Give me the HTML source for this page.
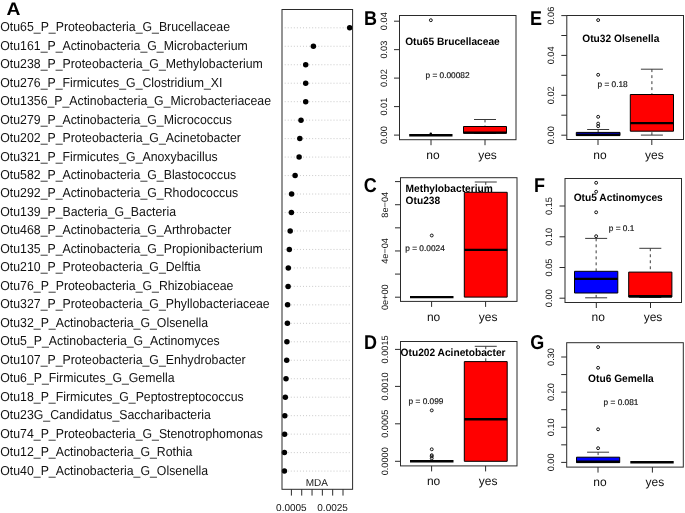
<!DOCTYPE html><html><head><meta charset="utf-8"><style>html,body{margin:0;padding:0;background:#fff;}svg{display:block;will-change:transform;}text{font-family:"Liberation Sans", sans-serif;text-rendering:geometricPrecision;}</style></head><body>
<svg width="685" height="513" viewBox="0 0 685 513">
<rect width="685" height="513" fill="#fff"/>
<text transform="translate(6.4 15) scale(1.07 1)" font-size="18" font-weight="bold" fill="#000">A</text>
<text transform="translate(0.30 31.25) scale(1 1.060)" font-size="12.30" fill="#111">Otu65_P_Proteobacteria_G_Brucellaceae</text>
<line x1="284.7" x2="351" y1="27.80" y2="27.80" stroke="#c4c4c4" stroke-width="0.9" stroke-dasharray="1 2.05"/>
<text transform="translate(0.30 49.72) scale(1 1.060)" font-size="12.30" fill="#111">Otu161_P_Actinobacteria_G_Microbacterium</text>
<line x1="284.7" x2="351" y1="46.27" y2="46.27" stroke="#c4c4c4" stroke-width="0.9" stroke-dasharray="1 2.05"/>
<text transform="translate(0.30 68.19) scale(1 1.060)" font-size="12.30" fill="#111">Otu238_P_Proteobacteria_G_Methylobacterium</text>
<line x1="284.7" x2="351" y1="64.74" y2="64.74" stroke="#c4c4c4" stroke-width="0.9" stroke-dasharray="1 2.05"/>
<text transform="translate(0.30 86.66) scale(1 1.060)" font-size="12.30" fill="#111">Otu276_P_Firmicutes_G_Clostridium_XI</text>
<line x1="284.7" x2="351" y1="83.21" y2="83.21" stroke="#c4c4c4" stroke-width="0.9" stroke-dasharray="1 2.05"/>
<text transform="translate(0.30 105.13) scale(1 1.060)" font-size="12.30" fill="#111">Otu1356_P_Actinobacteria_G_Microbacteriaceae</text>
<line x1="284.7" x2="351" y1="101.68" y2="101.68" stroke="#c4c4c4" stroke-width="0.9" stroke-dasharray="1 2.05"/>
<text transform="translate(0.30 123.60) scale(1 1.060)" font-size="12.30" fill="#111">Otu279_P_Actinobacteria_G_Micrococcus</text>
<line x1="284.7" x2="351" y1="120.15" y2="120.15" stroke="#c4c4c4" stroke-width="0.9" stroke-dasharray="1 2.05"/>
<text transform="translate(0.30 142.07) scale(1 1.060)" font-size="12.30" fill="#111">Otu202_P_Proteobacteria_G_Acinetobacter</text>
<line x1="284.7" x2="351" y1="138.62" y2="138.62" stroke="#c4c4c4" stroke-width="0.9" stroke-dasharray="1 2.05"/>
<text transform="translate(0.30 160.54) scale(1 1.060)" font-size="12.30" fill="#111">Otu321_P_Firmicutes_G_Anoxybacillus</text>
<line x1="284.7" x2="351" y1="157.09" y2="157.09" stroke="#c4c4c4" stroke-width="0.9" stroke-dasharray="1 2.05"/>
<text transform="translate(0.30 179.01) scale(1 1.060)" font-size="12.30" fill="#111">Otu582_P_Actinobacteria_G_Blastococcus</text>
<line x1="284.7" x2="351" y1="175.56" y2="175.56" stroke="#c4c4c4" stroke-width="0.9" stroke-dasharray="1 2.05"/>
<text transform="translate(0.30 197.48) scale(1 1.060)" font-size="12.30" fill="#111">Otu292_P_Actinobacteria_G_Rhodococcus</text>
<line x1="284.7" x2="351" y1="194.03" y2="194.03" stroke="#c4c4c4" stroke-width="0.9" stroke-dasharray="1 2.05"/>
<text transform="translate(0.30 215.95) scale(1 1.060)" font-size="12.30" fill="#111">Otu139_P_Bacteria_G_Bacteria</text>
<line x1="284.7" x2="351" y1="212.50" y2="212.50" stroke="#c4c4c4" stroke-width="0.9" stroke-dasharray="1 2.05"/>
<text transform="translate(0.30 234.42) scale(1 1.060)" font-size="12.30" fill="#111">Otu468_P_Actinobacteria_G_Arthrobacter</text>
<line x1="284.7" x2="351" y1="230.97" y2="230.97" stroke="#c4c4c4" stroke-width="0.9" stroke-dasharray="1 2.05"/>
<text transform="translate(0.30 252.89) scale(1 1.060)" font-size="12.30" fill="#111">Otu135_P_Actinobacteria_G_Propionibacterium</text>
<line x1="284.7" x2="351" y1="249.44" y2="249.44" stroke="#c4c4c4" stroke-width="0.9" stroke-dasharray="1 2.05"/>
<text transform="translate(0.30 271.36) scale(1 1.060)" font-size="12.30" fill="#111">Otu210_P_Proteobacteria_G_Delftia</text>
<line x1="284.7" x2="351" y1="267.91" y2="267.91" stroke="#c4c4c4" stroke-width="0.9" stroke-dasharray="1 2.05"/>
<text transform="translate(0.30 289.83) scale(1 1.060)" font-size="12.30" fill="#111">Otu76_P_Proteobacteria_G_Rhizobiaceae</text>
<line x1="284.7" x2="351" y1="286.38" y2="286.38" stroke="#c4c4c4" stroke-width="0.9" stroke-dasharray="1 2.05"/>
<text transform="translate(0.30 308.30) scale(1 1.060)" font-size="12.30" fill="#111">Otu327_P_Proteobacteria_G_Phyllobacteriaceae</text>
<line x1="284.7" x2="351" y1="304.85" y2="304.85" stroke="#c4c4c4" stroke-width="0.9" stroke-dasharray="1 2.05"/>
<text transform="translate(0.30 326.77) scale(1 1.060)" font-size="12.30" fill="#111">Otu32_P_Actinobacteria_G_Olsenella</text>
<line x1="284.7" x2="351" y1="323.32" y2="323.32" stroke="#c4c4c4" stroke-width="0.9" stroke-dasharray="1 2.05"/>
<text transform="translate(0.30 345.24) scale(1 1.060)" font-size="12.30" fill="#111">Otu5_P_Actinobacteria_G_Actinomyces</text>
<line x1="284.7" x2="351" y1="341.79" y2="341.79" stroke="#c4c4c4" stroke-width="0.9" stroke-dasharray="1 2.05"/>
<text transform="translate(0.30 363.71) scale(1 1.060)" font-size="12.30" fill="#111">Otu107_P_Proteobacteria_G_Enhydrobacter</text>
<line x1="284.7" x2="351" y1="360.26" y2="360.26" stroke="#c4c4c4" stroke-width="0.9" stroke-dasharray="1 2.05"/>
<text transform="translate(0.30 382.18) scale(1 1.060)" font-size="12.30" fill="#111">Otu6_P_Firmicutes_G_Gemella</text>
<line x1="284.7" x2="351" y1="378.73" y2="378.73" stroke="#c4c4c4" stroke-width="0.9" stroke-dasharray="1 2.05"/>
<text transform="translate(0.30 400.65) scale(1 1.060)" font-size="12.30" fill="#111">Otu18_P_Firmicutes_G_Peptostreptococcus</text>
<line x1="284.7" x2="351" y1="397.20" y2="397.20" stroke="#c4c4c4" stroke-width="0.9" stroke-dasharray="1 2.05"/>
<text transform="translate(0.30 419.12) scale(1 1.060)" font-size="12.30" fill="#111">Otu23G_Candidatus_Saccharibacteria</text>
<line x1="284.7" x2="351" y1="415.67" y2="415.67" stroke="#c4c4c4" stroke-width="0.9" stroke-dasharray="1 2.05"/>
<text transform="translate(0.30 437.59) scale(1 1.060)" font-size="12.30" fill="#111">Otu74_P_Proteobacteria_G_Stenotrophomonas</text>
<line x1="284.7" x2="351" y1="434.14" y2="434.14" stroke="#c4c4c4" stroke-width="0.9" stroke-dasharray="1 2.05"/>
<text transform="translate(0.30 456.06) scale(1 1.060)" font-size="12.30" fill="#111">Otu12_P_Actinobacteria_G_Rothia</text>
<line x1="284.7" x2="351" y1="452.61" y2="452.61" stroke="#c4c4c4" stroke-width="0.9" stroke-dasharray="1 2.05"/>
<text transform="translate(0.30 474.53) scale(1 1.060)" font-size="12.30" fill="#111">Otu40_P_Actinobacteria_G_Olsenella</text>
<line x1="284.7" x2="351" y1="471.08" y2="471.08" stroke="#c4c4c4" stroke-width="0.9" stroke-dasharray="1 2.05"/>
<circle cx="349.70" cy="27.80" r="2.75" fill="#000"/>
<circle cx="313.40" cy="46.27" r="2.75" fill="#000"/>
<circle cx="305.70" cy="64.74" r="2.75" fill="#000"/>
<circle cx="305.70" cy="83.21" r="2.75" fill="#000"/>
<circle cx="305.70" cy="101.68" r="2.75" fill="#000"/>
<circle cx="301.00" cy="120.15" r="2.75" fill="#000"/>
<circle cx="299.80" cy="138.62" r="2.75" fill="#000"/>
<circle cx="299.10" cy="157.09" r="2.75" fill="#000"/>
<circle cx="295.10" cy="175.56" r="2.75" fill="#000"/>
<circle cx="291.60" cy="194.03" r="2.75" fill="#000"/>
<circle cx="291.40" cy="212.50" r="2.75" fill="#000"/>
<circle cx="290.20" cy="230.97" r="2.75" fill="#000"/>
<circle cx="289.30" cy="249.44" r="2.75" fill="#000"/>
<circle cx="288.30" cy="267.91" r="2.75" fill="#000"/>
<circle cx="288.10" cy="286.38" r="2.75" fill="#000"/>
<circle cx="287.60" cy="304.85" r="2.75" fill="#000"/>
<circle cx="287.40" cy="323.32" r="2.75" fill="#000"/>
<circle cx="286.90" cy="341.79" r="2.75" fill="#000"/>
<circle cx="286.70" cy="360.26" r="2.75" fill="#000"/>
<circle cx="286.00" cy="378.73" r="2.75" fill="#000"/>
<circle cx="285.30" cy="397.20" r="2.75" fill="#000"/>
<circle cx="284.80" cy="415.67" r="2.75" fill="#000"/>
<circle cx="284.60" cy="434.14" r="2.75" fill="#000"/>
<circle cx="284.40" cy="452.61" r="2.75" fill="#000"/>
<circle cx="284.40" cy="471.08" r="2.75" fill="#000"/>
<rect x="282.00" y="9.50" width="70.60" height="479.80" fill="none" stroke="#2a2a2a" stroke-width="1.00"/>
<line x1="291.40" x2="291.40" y1="489.30" y2="495.6" stroke="#2a2a2a" stroke-width="1.00"/>
<line x1="301.72" x2="301.72" y1="489.30" y2="495.6" stroke="#2a2a2a" stroke-width="1.00"/>
<line x1="312.04" x2="312.04" y1="489.30" y2="495.6" stroke="#2a2a2a" stroke-width="1.00"/>
<line x1="322.36" x2="322.36" y1="489.30" y2="495.6" stroke="#2a2a2a" stroke-width="1.00"/>
<line x1="332.68" x2="332.68" y1="489.30" y2="495.6" stroke="#2a2a2a" stroke-width="1.00"/>
<line x1="343.00" x2="343.00" y1="489.30" y2="495.6" stroke="#2a2a2a" stroke-width="1.00"/>
<text x="291.4" y="510.9" font-size="10" text-anchor="middle" fill="#111">0.0005</text>
<text x="332.6" y="510.9" font-size="10" text-anchor="middle" fill="#111">0.0025</text>
<text x="316.9" y="485.6" font-size="10" text-anchor="middle" fill="#111">MDA</text>
<line x1="394.00" x2="399.50" y1="21.20" y2="21.20" stroke="#2a2a2a" stroke-width="1.00"/>
<text transform="translate(386.50 21.20) rotate(-90)" font-size="9.20" text-anchor="middle" fill="#111">0.04</text>
<line x1="394.00" x2="399.50" y1="49.65" y2="49.65" stroke="#2a2a2a" stroke-width="1.00"/>
<text transform="translate(386.50 49.65) rotate(-90)" font-size="9.20" text-anchor="middle" fill="#111">0.03</text>
<line x1="394.00" x2="399.50" y1="78.10" y2="78.10" stroke="#2a2a2a" stroke-width="1.00"/>
<text transform="translate(386.50 78.10) rotate(-90)" font-size="9.20" text-anchor="middle" fill="#111">0.02</text>
<line x1="394.00" x2="399.50" y1="106.60" y2="106.60" stroke="#2a2a2a" stroke-width="1.00"/>
<text transform="translate(386.50 106.60) rotate(-90)" font-size="9.20" text-anchor="middle" fill="#111">0.01</text>
<line x1="394.00" x2="399.50" y1="135.10" y2="135.10" stroke="#2a2a2a" stroke-width="1.00"/>
<text transform="translate(386.50 135.10) rotate(-90)" font-size="9.20" text-anchor="middle" fill="#111">0.00</text>
<line x1="431.00" x2="431.00" y1="139.70" y2="145.20" stroke="#2a2a2a" stroke-width="1.00"/>
<text x="433.00" y="159.00" font-size="12" text-anchor="middle" fill="#111">no</text>
<line x1="485.00" x2="485.00" y1="139.70" y2="145.20" stroke="#2a2a2a" stroke-width="1.00"/>
<text x="487.50" y="159.00" font-size="12" text-anchor="middle" fill="#111">yes</text>
<line x1="409.20" x2="452.50" y1="135.20" y2="135.20" stroke="#000" stroke-width="2.40"/>
<circle cx="430.80" cy="133.90" r="1.3" fill="#000"/>
<circle cx="430.85" cy="20.20" r="1.45" fill="none" stroke="#111" stroke-width="1.0"/>
<line x1="485.00" x2="485.00" y1="119.50" y2="126.50" stroke="#3a3a3a" stroke-width="1" stroke-dasharray="2.9 3.1"/>
<line x1="474.00" x2="496.00" y1="119.50" y2="119.50" stroke="#3a3a3a" stroke-width="1"/>
<line x1="485.00" x2="485.00" y1="133.50" y2="133.20" stroke="#3a3a3a" stroke-width="1" stroke-dasharray="2.9 3.1"/>
<line x1="474.00" x2="496.00" y1="133.50" y2="133.50" stroke="#3a3a3a" stroke-width="1"/>
<rect x="463.50" y="126.50" width="43.00" height="6.70" fill="#f00" stroke="#000" stroke-width="1" stroke-linejoin="round"/>
<line x1="463.50" x2="506.50" y1="132.60" y2="132.60" stroke="#000" stroke-width="2.40"/>
<rect x="399.50" y="15.50" width="116.50" height="124.20" fill="none" stroke="#2a2a2a" stroke-width="1.00"/>
<text transform="translate(364.00 24.60) scale(1 1.11)" font-size="18" font-weight="bold" fill="#000">B</text>
<text transform="translate(405.20 44.95) scale(1 1.04)" font-size="10.2" font-weight="bold" fill="#000">Otu65 Brucellaceae</text>
<text x="425.50" y="78.00" font-size="8.3" fill="#111" stroke="#111" stroke-width="0.18">p = 0.00082</text>
<line x1="561.30" x2="566.80" y1="15.60" y2="15.60" stroke="#2a2a2a" stroke-width="1.00"/>
<text transform="translate(553.50 15.60) rotate(-90)" font-size="9.20" text-anchor="middle" fill="#111">0.06</text>
<line x1="561.30" x2="566.80" y1="35.50" y2="35.50" stroke="#2a2a2a" stroke-width="1.00"/>
<line x1="561.30" x2="566.80" y1="55.40" y2="55.40" stroke="#2a2a2a" stroke-width="1.00"/>
<text transform="translate(553.50 55.40) rotate(-90)" font-size="9.20" text-anchor="middle" fill="#111">0.04</text>
<line x1="561.30" x2="566.80" y1="75.30" y2="75.30" stroke="#2a2a2a" stroke-width="1.00"/>
<line x1="561.30" x2="566.80" y1="95.30" y2="95.30" stroke="#2a2a2a" stroke-width="1.00"/>
<text transform="translate(553.50 95.30) rotate(-90)" font-size="9.20" text-anchor="middle" fill="#111">0.02</text>
<line x1="561.30" x2="566.80" y1="115.20" y2="115.20" stroke="#2a2a2a" stroke-width="1.00"/>
<line x1="561.30" x2="566.80" y1="135.20" y2="135.20" stroke="#2a2a2a" stroke-width="1.00"/>
<text transform="translate(553.50 135.20) rotate(-90)" font-size="9.20" text-anchor="middle" fill="#111">0.00</text>
<line x1="598.00" x2="598.00" y1="139.50" y2="145.00" stroke="#2a2a2a" stroke-width="1.00"/>
<text x="600.00" y="159.00" font-size="12" text-anchor="middle" fill="#111">no</text>
<line x1="651.80" x2="651.80" y1="139.50" y2="145.00" stroke="#2a2a2a" stroke-width="1.00"/>
<text x="654.30" y="159.00" font-size="12" text-anchor="middle" fill="#111">yes</text>
<line x1="598.15" x2="598.15" y1="129.50" y2="132.40" stroke="#3a3a3a" stroke-width="1" stroke-dasharray="2.9 3.1"/>
<line x1="587.15" x2="609.15" y1="129.50" y2="129.50" stroke="#3a3a3a" stroke-width="1"/>
<rect x="576.30" y="132.40" width="43.70" height="3.20" fill="#00008b" stroke="#000" stroke-width="1" stroke-linejoin="round"/>
<line x1="576.30" x2="620.00" y1="134.90" y2="134.90" stroke="#000" stroke-width="2.00"/>
<circle cx="598.15" cy="20.10" r="1.45" fill="none" stroke="#111" stroke-width="1.0"/>
<circle cx="598.15" cy="74.80" r="1.45" fill="none" stroke="#111" stroke-width="1.0"/>
<circle cx="598.15" cy="116.80" r="1.45" fill="none" stroke="#111" stroke-width="1.0"/>
<circle cx="598.15" cy="123.60" r="1.45" fill="none" stroke="#111" stroke-width="1.0"/>
<circle cx="598.15" cy="126.20" r="1.45" fill="none" stroke="#111" stroke-width="1.0"/>
<line x1="651.90" x2="651.90" y1="69.20" y2="94.50" stroke="#3a3a3a" stroke-width="1" stroke-dasharray="2.9 3.1"/>
<line x1="640.90" x2="662.90" y1="69.20" y2="69.20" stroke="#3a3a3a" stroke-width="1"/>
<line x1="651.90" x2="651.90" y1="135.10" y2="131.20" stroke="#3a3a3a" stroke-width="1" stroke-dasharray="2.9 3.1"/>
<line x1="640.90" x2="662.90" y1="135.10" y2="135.10" stroke="#3a3a3a" stroke-width="1"/>
<rect x="630.30" y="94.50" width="43.20" height="36.70" fill="#f00" stroke="#000" stroke-width="1" stroke-linejoin="round"/>
<line x1="630.30" x2="673.50" y1="123.10" y2="123.10" stroke="#000" stroke-width="2.40"/>
<rect x="566.80" y="15.50" width="116.70" height="124.00" fill="none" stroke="#2a2a2a" stroke-width="1.00"/>
<text transform="translate(530.10 24.60) scale(1 1.11)" font-size="18" font-weight="bold" fill="#000">E</text>
<text transform="translate(582.30 42.25) scale(1 1.04)" font-size="10.2" font-weight="bold" fill="#000">Otu32 Olsenella</text>
<text x="597.50" y="87.20" font-size="8.3" fill="#111" stroke="#111" stroke-width="0.18">p = 0.18</text>
<line x1="395.00" x2="400.50" y1="181.60" y2="181.60" stroke="#2a2a2a" stroke-width="1.00"/>
<line x1="395.00" x2="400.50" y1="204.72" y2="204.72" stroke="#2a2a2a" stroke-width="1.00"/>
<text transform="translate(387.50 204.72) rotate(-90)" font-size="9.20" text-anchor="middle" fill="#111">8e−04</text>
<line x1="395.00" x2="400.50" y1="227.84" y2="227.84" stroke="#2a2a2a" stroke-width="1.00"/>
<line x1="395.00" x2="400.50" y1="250.96" y2="250.96" stroke="#2a2a2a" stroke-width="1.00"/>
<text transform="translate(387.50 250.96) rotate(-90)" font-size="9.20" text-anchor="middle" fill="#111">4e−04</text>
<line x1="395.00" x2="400.50" y1="274.08" y2="274.08" stroke="#2a2a2a" stroke-width="1.00"/>
<line x1="395.00" x2="400.50" y1="297.20" y2="297.20" stroke="#2a2a2a" stroke-width="1.00"/>
<text transform="translate(387.50 297.20) rotate(-90)" font-size="9.20" text-anchor="middle" fill="#111">0e+00</text>
<line x1="431.60" x2="431.60" y1="301.40" y2="306.90" stroke="#2a2a2a" stroke-width="1.00"/>
<text x="433.60" y="320.70" font-size="12" text-anchor="middle" fill="#111">no</text>
<line x1="485.60" x2="485.60" y1="301.40" y2="306.90" stroke="#2a2a2a" stroke-width="1.00"/>
<text x="488.10" y="320.70" font-size="12" text-anchor="middle" fill="#111">yes</text>
<line x1="410.00" x2="453.50" y1="297.10" y2="297.10" stroke="#000" stroke-width="2.40"/>
<circle cx="431.75" cy="235.50" r="1.45" fill="none" stroke="#111" stroke-width="1.0"/>
<line x1="485.75" x2="485.75" y1="182.00" y2="192.30" stroke="#3a3a3a" stroke-width="1" stroke-dasharray="2.9 3.1"/>
<line x1="474.75" x2="496.75" y1="182.00" y2="182.00" stroke="#3a3a3a" stroke-width="1"/>
<rect x="464.30" y="192.30" width="42.90" height="104.80" fill="#f00" stroke="#000" stroke-width="1" stroke-linejoin="round"/>
<line x1="464.30" x2="507.20" y1="249.90" y2="249.90" stroke="#000" stroke-width="2.40"/>
<rect x="400.50" y="177.70" width="116.50" height="123.70" fill="none" stroke="#2a2a2a" stroke-width="1.00"/>
<text transform="translate(363.70 191.70) scale(1 1.11)" font-size="18" font-weight="bold" fill="#000">C</text>
<text transform="translate(405.60 192.25) scale(1 1.04)" font-size="10.2" font-weight="bold" fill="#000">Methylobacterium</text>
<text transform="translate(405.60 203.85) scale(1 1.04)" font-size="10.2" font-weight="bold" fill="#000">Otu238</text>
<text x="405.30" y="251.30" font-size="8.3" fill="#111" stroke="#111" stroke-width="0.18">p = 0.0024</text>
<line x1="559.50" x2="565.00" y1="206.00" y2="206.00" stroke="#2a2a2a" stroke-width="1.00"/>
<text transform="translate(552.00 206.00) rotate(-90)" font-size="9.20" text-anchor="middle" fill="#111">0.15</text>
<line x1="559.50" x2="565.00" y1="236.80" y2="236.80" stroke="#2a2a2a" stroke-width="1.00"/>
<text transform="translate(552.00 236.80) rotate(-90)" font-size="9.20" text-anchor="middle" fill="#111">0.10</text>
<line x1="559.50" x2="565.00" y1="267.50" y2="267.50" stroke="#2a2a2a" stroke-width="1.00"/>
<text transform="translate(552.00 267.50) rotate(-90)" font-size="9.20" text-anchor="middle" fill="#111">0.05</text>
<line x1="559.50" x2="565.00" y1="298.20" y2="298.20" stroke="#2a2a2a" stroke-width="1.00"/>
<text transform="translate(552.00 298.20) rotate(-90)" font-size="9.20" text-anchor="middle" fill="#111">0.00</text>
<line x1="596.30" x2="596.30" y1="302.50" y2="308.00" stroke="#2a2a2a" stroke-width="1.00"/>
<text x="598.30" y="320.60" font-size="12" text-anchor="middle" fill="#111">no</text>
<line x1="650.50" x2="650.50" y1="302.50" y2="308.00" stroke="#2a2a2a" stroke-width="1.00"/>
<text x="653.00" y="320.60" font-size="12" text-anchor="middle" fill="#111">yes</text>
<line x1="596.15" x2="596.15" y1="238.40" y2="271.30" stroke="#3a3a3a" stroke-width="1" stroke-dasharray="2.9 3.1"/>
<line x1="585.15" x2="607.15" y1="238.40" y2="238.40" stroke="#3a3a3a" stroke-width="1"/>
<line x1="596.15" x2="596.15" y1="297.80" y2="293.00" stroke="#3a3a3a" stroke-width="1" stroke-dasharray="2.9 3.1"/>
<line x1="585.15" x2="607.15" y1="297.80" y2="297.80" stroke="#3a3a3a" stroke-width="1"/>
<rect x="574.50" y="271.30" width="43.30" height="21.70" fill="#00f" stroke="#000" stroke-width="1" stroke-linejoin="round"/>
<line x1="574.50" x2="617.80" y1="278.90" y2="278.90" stroke="#000" stroke-width="2.40"/>
<circle cx="596.15" cy="182.80" r="1.45" fill="none" stroke="#111" stroke-width="1.0"/>
<circle cx="596.15" cy="191.70" r="1.45" fill="none" stroke="#111" stroke-width="1.0"/>
<circle cx="596.15" cy="212.30" r="1.45" fill="none" stroke="#111" stroke-width="1.0"/>
<circle cx="596.15" cy="236.20" r="1.45" fill="none" stroke="#111" stroke-width="1.0"/>
<line x1="650.30" x2="650.30" y1="248.30" y2="272.10" stroke="#3a3a3a" stroke-width="1" stroke-dasharray="2.9 3.1"/>
<line x1="639.30" x2="661.30" y1="248.30" y2="248.30" stroke="#3a3a3a" stroke-width="1"/>
<line x1="650.30" x2="650.30" y1="297.50" y2="297.00" stroke="#3a3a3a" stroke-width="1" stroke-dasharray="2.9 3.1"/>
<line x1="639.30" x2="661.30" y1="297.50" y2="297.50" stroke="#3a3a3a" stroke-width="1"/>
<rect x="628.70" y="272.10" width="43.20" height="24.90" fill="#f00" stroke="#000" stroke-width="1" stroke-linejoin="round"/>
<line x1="628.70" x2="671.90" y1="296.30" y2="296.30" stroke="#000" stroke-width="2.40"/>
<rect x="565.00" y="178.50" width="116.50" height="124.00" fill="none" stroke="#2a2a2a" stroke-width="1.00"/>
<text transform="translate(534.00 191.60) scale(1 1.11)" font-size="18" font-weight="bold" fill="#000">F</text>
<text transform="translate(573.70 201.05) scale(1 1.04)" font-size="10.2" font-weight="bold" fill="#000">Otu5 Actinomyces</text>
<text x="608.80" y="231.20" font-size="8.3" fill="#111" stroke="#111" stroke-width="0.18">p = 0.1</text>
<line x1="395.00" x2="400.50" y1="349.40" y2="349.40" stroke="#2a2a2a" stroke-width="1.00"/>
<text transform="translate(387.50 349.40) rotate(-90)" font-size="9.20" text-anchor="middle" fill="#111">0.0015</text>
<line x1="395.00" x2="400.50" y1="386.40" y2="386.40" stroke="#2a2a2a" stroke-width="1.00"/>
<text transform="translate(387.50 386.40) rotate(-90)" font-size="9.20" text-anchor="middle" fill="#111">0.0010</text>
<line x1="395.00" x2="400.50" y1="423.80" y2="423.80" stroke="#2a2a2a" stroke-width="1.00"/>
<text transform="translate(387.50 423.80) rotate(-90)" font-size="9.20" text-anchor="middle" fill="#111">0.0005</text>
<line x1="395.00" x2="400.50" y1="461.30" y2="461.30" stroke="#2a2a2a" stroke-width="1.00"/>
<text transform="translate(387.50 461.30) rotate(-90)" font-size="9.20" text-anchor="middle" fill="#111">0.0000</text>
<line x1="431.60" x2="431.60" y1="465.90" y2="471.40" stroke="#2a2a2a" stroke-width="1.00"/>
<text x="433.60" y="485.00" font-size="12" text-anchor="middle" fill="#111">no</text>
<line x1="485.60" x2="485.60" y1="465.90" y2="471.40" stroke="#2a2a2a" stroke-width="1.00"/>
<text x="488.10" y="485.00" font-size="12" text-anchor="middle" fill="#111">yes</text>
<line x1="410.00" x2="453.50" y1="461.30" y2="461.30" stroke="#000" stroke-width="2.40"/>
<circle cx="431.75" cy="410.40" r="1.45" fill="none" stroke="#111" stroke-width="1.0"/>
<circle cx="431.75" cy="449.30" r="1.45" fill="none" stroke="#111" stroke-width="1.0"/>
<circle cx="431.75" cy="455.20" r="1.45" fill="none" stroke="#111" stroke-width="1.0"/>
<circle cx="431.75" cy="456.40" r="1.45" fill="none" stroke="#111" stroke-width="1.0"/>
<circle cx="431.75" cy="458.40" r="1.45" fill="none" stroke="#111" stroke-width="1.0"/>
<line x1="485.75" x2="485.75" y1="346.30" y2="361.60" stroke="#3a3a3a" stroke-width="1" stroke-dasharray="2.9 3.1"/>
<line x1="474.75" x2="496.75" y1="346.30" y2="346.30" stroke="#3a3a3a" stroke-width="1"/>
<rect x="464.30" y="361.60" width="42.90" height="99.70" fill="#f00" stroke="#000" stroke-width="1" stroke-linejoin="round"/>
<line x1="464.30" x2="507.20" y1="419.20" y2="419.20" stroke="#000" stroke-width="2.40"/>
<rect x="400.50" y="341.50" width="116.50" height="124.40" fill="none" stroke="#2a2a2a" stroke-width="1.00"/>
<text transform="translate(364.00 349.30) scale(1 1.11)" font-size="18" font-weight="bold" fill="#000">D</text>
<text transform="translate(400.60 355.75) scale(1 1.04)" font-size="10.2" font-weight="bold" fill="#000">Otu202 Acinetobacter</text>
<text x="408.60" y="404.20" font-size="8.3" fill="#111" stroke="#111" stroke-width="0.18">p = 0.099</text>
<line x1="561.20" x2="566.70" y1="357.00" y2="357.00" stroke="#2a2a2a" stroke-width="1.00"/>
<text transform="translate(553.50 357.00) rotate(-90)" font-size="9.20" text-anchor="middle" fill="#111">0.30</text>
<line x1="561.20" x2="566.70" y1="374.57" y2="374.57" stroke="#2a2a2a" stroke-width="1.00"/>
<line x1="561.20" x2="566.70" y1="392.13" y2="392.13" stroke="#2a2a2a" stroke-width="1.00"/>
<text transform="translate(553.50 392.13) rotate(-90)" font-size="9.20" text-anchor="middle" fill="#111">0.20</text>
<line x1="561.20" x2="566.70" y1="409.70" y2="409.70" stroke="#2a2a2a" stroke-width="1.00"/>
<line x1="561.20" x2="566.70" y1="427.27" y2="427.27" stroke="#2a2a2a" stroke-width="1.00"/>
<text transform="translate(553.50 427.27) rotate(-90)" font-size="9.20" text-anchor="middle" fill="#111">0.10</text>
<line x1="561.20" x2="566.70" y1="444.83" y2="444.83" stroke="#2a2a2a" stroke-width="1.00"/>
<line x1="561.20" x2="566.70" y1="462.40" y2="462.40" stroke="#2a2a2a" stroke-width="1.00"/>
<text transform="translate(553.50 462.40) rotate(-90)" font-size="9.20" text-anchor="middle" fill="#111">0.00</text>
<line x1="598.00" x2="598.00" y1="467.10" y2="472.60" stroke="#2a2a2a" stroke-width="1.00"/>
<text x="600.00" y="486.00" font-size="12" text-anchor="middle" fill="#111">no</text>
<line x1="652.40" x2="652.40" y1="467.10" y2="472.60" stroke="#2a2a2a" stroke-width="1.00"/>
<text x="654.90" y="486.00" font-size="12" text-anchor="middle" fill="#111">yes</text>
<line x1="598.10" x2="598.10" y1="452.20" y2="457.20" stroke="#3a3a3a" stroke-width="1" stroke-dasharray="2.9 3.1"/>
<line x1="587.10" x2="609.10" y1="452.20" y2="452.20" stroke="#3a3a3a" stroke-width="1"/>
<rect x="576.50" y="457.20" width="43.20" height="5.40" fill="#00f" stroke="#000" stroke-width="1" stroke-linejoin="round"/>
<line x1="576.50" x2="619.70" y1="461.80" y2="461.80" stroke="#000" stroke-width="2.40"/>
<circle cx="598.10" cy="347.10" r="1.45" fill="none" stroke="#111" stroke-width="1.0"/>
<circle cx="598.10" cy="367.80" r="1.45" fill="none" stroke="#111" stroke-width="1.0"/>
<circle cx="598.10" cy="429.30" r="1.45" fill="none" stroke="#111" stroke-width="1.0"/>
<circle cx="598.10" cy="448.20" r="1.45" fill="none" stroke="#111" stroke-width="1.0"/>
<line x1="630.30" x2="673.70" y1="462.20" y2="462.20" stroke="#000" stroke-width="2.40"/>
<rect x="566.70" y="342.70" width="116.60" height="124.40" fill="none" stroke="#2a2a2a" stroke-width="1.00"/>
<text transform="translate(530.20 349.40) scale(1 1.11)" font-size="18" font-weight="bold" fill="#000">G</text>
<text transform="translate(588.10 382.05) scale(1 1.04)" font-size="10.2" font-weight="bold" fill="#000">Otu6 Gemella</text>
<text x="603.60" y="405.30" font-size="8.3" fill="#111" stroke="#111" stroke-width="0.18">p = 0.081</text>
</svg></body></html>
